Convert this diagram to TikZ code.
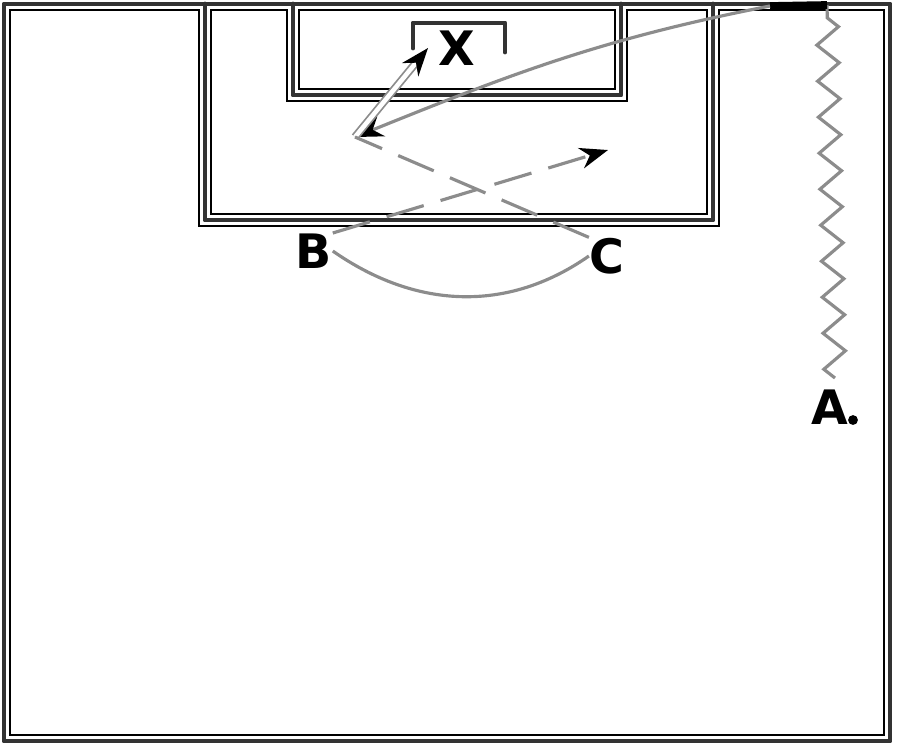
\documentclass[tikz,border=0pt]{standalone}
\usepackage{fontspec}
\setsansfont{DejaVu Sans}
\usepackage{tikz}
\usetikzlibrary{positioning}
\usetikzlibrary{arrows.meta}
\usetikzlibrary{decorations.pathmorphing}

\tikzset{
  pitchLine/.style={line width=1.4pt, draw=black!80, line join=round, line cap=round},
  insetLine/.style={line width=0.4pt, draw=black},
  player/.style={font=\sffamily\bfseries\fontsize{13.5}{16}\selectfont, inner sep=0pt},
  moveLine/.style={line width=0.9pt, draw=black!45},
  runLine/.style={moveLine, dash pattern=on 11pt off 5pt},
  ballTip/.style={-{Stealth[length=8pt, width=6pt, black]}},
}

\begin{document}
\begin{tikzpicture}[x=0.01cm, y=0.01cm]
		\useasboundingbox (0,0) rectangle (900,-747);

		% draw pitch lines
		\draw[pitchLine] (4,-4) rectangle (890,-741);
		\draw[pitchLine] (205,-4) -- (205,-220) -- (713,-220) -- (713,-4);
		\draw[pitchLine] (293,-4) -- (293,-95) -- (621,-95) -- (621,-4);
		\draw[pitchLine] (413,-48) -- (413,-23) -- (505,-23) -- (505,-52);

		% draw inner outlines
		\draw[insetLine] (10,-10) -- (199,-10) -- (199,-226) -- (719,-226) -- (719,-10) -- (884,-10) -- (884,-735) -- (10,-735) -- cycle;
		\draw[insetLine] (211,-10) -- (287,-10) -- (287,-101) -- (627,-101) -- (627,-10) -- (707,-10) -- (707,-214) -- (211,-214) -- cycle;
		\draw[insetLine] (299,-10) -- (615,-10) -- (615,-89) -- (299,-89) -- cycle;

		% players
		\node[player](xLabel) at (457,-48){X};
		\node[player](bLabel) at (314,-251){B};
		\node[player](cLabel) at (607,-256){C};
		\node[player](aLabel) at (830,-407){A};
		\node[circle, fill=black, inner sep=0pt, minimum size=2.8pt](aBall) at (853,-420){};

		\coordinate (cornerBall) at (827,-5);
		\coordinate (kneeBall) at (770,-6);
		\coordinate (meetPoint) at (355,-137);
		\coordinate (shotEnd) at (428,-48);
		\coordinate (runEnd) at (608,-150);
		\coordinate (zigStart) at (835,-378);

		% draw dribble and passes
		\draw[moveLine, decorate, decoration={zigzag, segment length=0.36cm, amplitude=0.11cm}] (zigStart) -- (cornerBall);
		\draw[line width=2.2pt] (kneeBall) -- (cornerBall);
		\draw[moveLine, ballTip] (kneeBall) to[out=191, in=22] (meetPoint);
		\draw[line width=0.5pt, draw=black!45, double=white, double distance=1.3pt, ballTip] (meetPoint) -- (shotEnd);
		\draw[moveLine] (bLabel.east) to[out=-35, in=-145] (cLabel.west);

		% draw runs
		\draw[runLine, ballTip] (bLabel.north east) -- (runEnd);
		\draw[runLine] (cLabel.north west) -- (meetPoint);
\end{tikzpicture}
\end{document}
